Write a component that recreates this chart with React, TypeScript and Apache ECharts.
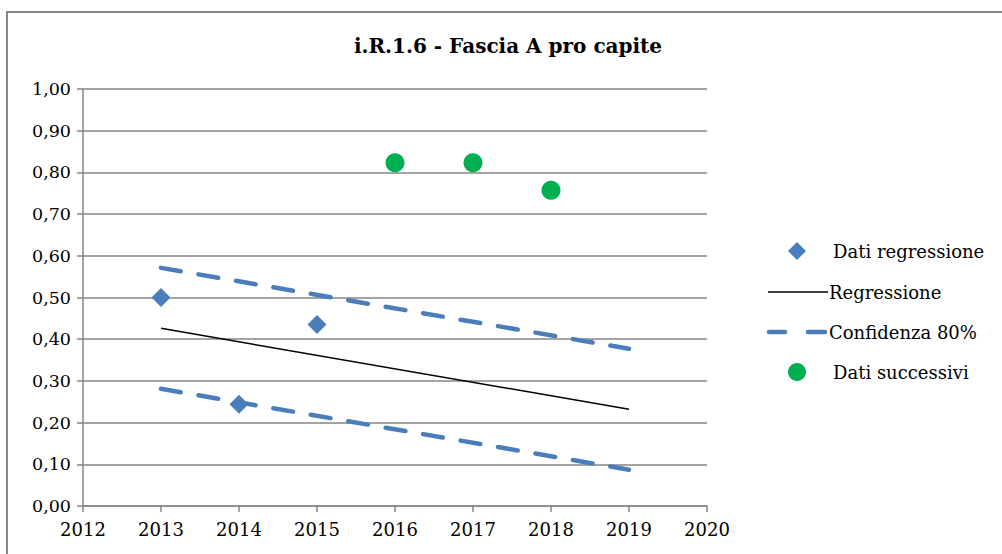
import React, { useEffect, useRef } from "react";
import * as echarts from "echarts";

const title = "i.R.1.6 - Fascia A pro capite";
const regYears = [2013, 2014, 2015];
const regValues = [0.5, 0.244, 0.435];
const lineYears = [2013, 2019];
const regressionLine = [0.426, 0.232];
const upperConf = [0.571, 0.377];
const lowerConf = [0.281, 0.087];
const nextYears = [2016, 2017, 2018];
const nextValues = [0.823, 0.823, 0.757];
const legendNames = ["Dati regressione", "Regressione", "Confidenza 80%", "Dati successivi"];

const pairs = (xs: number[], ys: number[]) => xs.map((x, i) => [x, ys[i]]);

const FONT = "DejaVu Serif";
const GRID = "#868686";
const BLUE = "#4a7ebb";
const GREEN = "#00b050";

export default function App() {
  const ref = useRef<HTMLDivElement>(null);
  useEffect(() => {
    if (!ref.current) return;
    const chart = echarts.init(ref.current, null, { renderer: "svg" });
    const ly = [251, 292, 332, 372];
    const textStyle = (i: number, x: number) => ({
      type: "text",
      x,
      y: ly[i],
      style: {
        text: legendNames[i],
        fontFamily: FONT,
        fontSize: 18,
        fill: "#000",
        verticalAlign: "middle",
      },
      silent: true,
    });
    chart.setOption({
      animation: false,
      backgroundColor: "#fff",
      title: {
        text: title,
        left: 503,
        top: 31,
        textAlign: "center",
        textStyle: { fontFamily: FONT, fontSize: 20, fontWeight: "bold", color: "#000" },
      },
      graphic: [
        {
          type: "rect",
          shape: { x: 7, y: 12, width: 1100, height: 700 },
          style: { fill: "none", stroke: GRID, lineWidth: 2 },
          silent: true,
        },
        {
          type: "polygon",
          shape: { points: [[797, 242], [806, 251], [797, 260], [788, 251]] },
          style: { fill: BLUE },
          silent: true,
        },
        textStyle(0, 833),
        {
          type: "line",
          shape: { x1: 768, y1: ly[1], x2: 828, y2: ly[1] },
          style: { stroke: "#000", lineWidth: 1.5 },
          silent: true,
        },
        textStyle(1, 829),
        {
          type: "line",
          shape: { x1: 769, y1: ly[2], x2: 785, y2: ly[2] },
          style: { stroke: BLUE, lineWidth: 4.5, lineCap: "round" },
          silent: true,
        },
        {
          type: "line",
          shape: { x1: 808, y1: ly[2], x2: 825, y2: ly[2] },
          style: { stroke: BLUE, lineWidth: 4.5, lineCap: "round" },
          silent: true,
        },
        textStyle(2, 829),
        {
          type: "circle",
          shape: { cx: 797, cy: ly[3], r: 9 },
          style: { fill: GREEN },
          silent: true,
        },
        textStyle(3, 833),
      ],
      grid: { left: 83, right: 295, top: 89, bottom: 48, containLabel: false },
      xAxis: {
        type: "value",
        min: 2012,
        max: 2020,
        interval: 1,
        axisLine: { show: true, lineStyle: { color: GRID, width: 1.5 } },
        axisTick: { show: true, length: 6, lineStyle: { color: GRID, width: 1.5 } },
        splitLine: { show: false },
        axisLabel: { fontFamily: FONT, fontSize: 18, color: "#000", margin: 14, formatter: (v: number) => String(v) },
      },
      yAxis: {
        type: "value",
        min: 0,
        max: 1,
        interval: 0.1,
        axisLine: { show: true, lineStyle: { color: GRID, width: 1.5 } },
        axisTick: { show: true, length: 6, lineStyle: { color: GRID, width: 1.5 } },
        splitLine: { show: true, lineStyle: { color: GRID, width: 1.5 } },
        axisLabel: {
          fontFamily: FONT,
          fontSize: 17.5,
          color: "#000",
          margin: 12,
          formatter: (v: number) => v.toFixed(2).replace(".", ","),
        },
      },
      series: [
        {
          name: legendNames[0],
          type: "scatter",
          symbol: "diamond",
          symbolSize: 19,
          itemStyle: { color: BLUE, opacity: 1 },
          data: pairs(regYears, regValues),
          z: 5,
        },
        {
          name: legendNames[1],
          type: "line",
          symbol: "none",
          lineStyle: { color: "#000", width: 1.5 },
          data: pairs(lineYears, regressionLine),
        },
        {
          name: legendNames[2],
          type: "line",
          symbol: "none",
          lineStyle: { color: BLUE, width: 4.5, type: [20, 18], cap: "round" },
          data: pairs(lineYears, upperConf),
        },
        {
          name: legendNames[2],
          type: "line",
          symbol: "none",
          lineStyle: { color: BLUE, width: 4.5, type: [20, 18], cap: "round" },
          data: pairs(lineYears, lowerConf),
        },
        {
          name: legendNames[3],
          type: "scatter",
          symbol: "circle",
          symbolSize: 19,
          itemStyle: { color: GREEN, opacity: 1 },
          data: pairs(nextYears, nextValues),
          z: 5,
        },
      ],
    });
    return () => chart.dispose();
  }, []);
  return (
    <div
      ref={ref}
      style={{ position: "fixed", left: 0, top: 0, width: 1002, height: 554 }}
    />
  );
}
